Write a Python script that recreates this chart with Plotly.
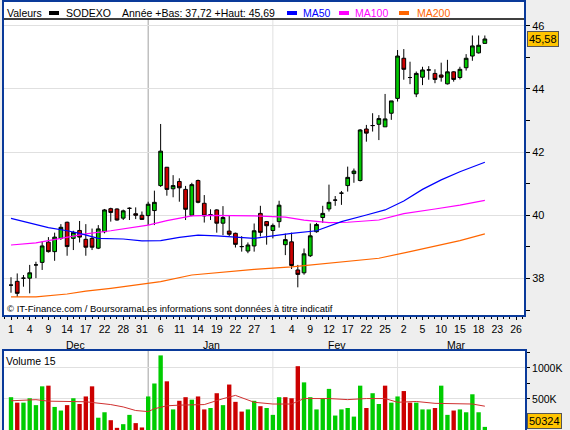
import plotly.graph_objects as go

# --- daily candles, Dec 1 -> Mar 19 (index = trading day) ---
opens = [37.79, 37.91, 38.01, 38.01, 38.43, 38.51, 39.15, 38.85, 39.27, 39.78,
         39.27, 39.52, 39.24, 39.27, 38.96, 39.48, 40.21, 40.20, 39.91, 40.22,
         40.05, 40.00, 39.99, 40.15, 40.94, 41.52, 40.84, 41.07, 40.82, 40.00,
         41.10, 40.38, 40.02, 40.17, 39.75, 39.50, 39.43, 39.01, 38.87, 39.03,
         40.06, 39.80, 39.52, 39.80, 39.07, 39.16, 38.27, 38.18, 38.72, 39.48,
         39.93, 40.20, 40.48, 40.70, 40.94, 41.32, 41.10, 42.73, 42.84, 42.88,
         42.80, 43.23, 43.70, 44.97, 44.36, 43.84, 44.37, 44.60, 44.49, 44.44,
         44.16, 44.54, 44.36, 44.67, 45.04, 45.14, 45.44]
highs = [38.04, 38.16, 38.11, 38.43, 38.53, 39.17, 39.31, 39.45, 39.72, 39.80,
         39.51, 39.82, 39.72, 39.58, 39.69, 40.20, 40.24, 40.22, 40.18, 40.25,
         40.25, 40.12, 40.43, 40.78, 42.89, 41.53, 41.27, 41.17, 40.93, 41.03,
         41.13, 40.64, 40.19, 40.19, 40.29, 40.00, 39.45, 39.34, 39.14, 39.74,
         40.30, 39.82, 39.74, 40.46, 39.42, 39.45, 38.43, 38.95, 39.74, 39.76,
         40.30, 40.97, 40.61, 40.77, 41.54, 41.48, 42.73, 42.86, 43.23, 43.17,
         43.84, 43.62, 45.23, 45.26, 44.86, 44.55, 44.70, 44.72, 44.62, 44.83,
         44.92, 44.56, 44.70, 45.10, 45.69, 45.69, 45.69]
lows = [37.55, 37.42, 37.74, 37.53, 38.01, 38.27, 38.82, 38.56, 39.22, 38.72,
        38.90, 39.14, 38.72, 38.90, 38.93, 39.43, 39.80, 39.83, 39.85, 39.85,
        39.88, 39.85, 39.69, 39.69, 40.90, 40.62, 40.57, 40.43, 39.85, 39.97,
        40.38, 39.77, 39.85, 39.45, 39.37, 39.34, 38.98, 38.85, 38.80, 38.85,
        39.33, 39.07, 39.27, 39.61, 38.74, 38.30, 37.72, 38.12, 38.68, 39.45,
        39.76, 40.12, 40.30, 40.33, 40.75, 41.03, 41.07, 42.33, 42.65, 42.38,
        42.80, 43.02, 43.60, 44.29, 44.15, 43.74, 44.12, 44.29, 44.18, 44.23,
        44.14, 44.23, 44.30, 44.58, 44.89, 45.12, 45.44]
closes = [37.79, 37.53, 38.01, 38.18, 38.43, 39.03, 38.85, 39.31, 39.62, 39.01,
          39.46, 39.31, 38.99, 38.99, 39.57, 40.17, 40.09, 39.85, 40.14, 40.22,
          40.00, 39.87, 40.35, 40.41, 42.03, 40.82, 40.94, 40.87, 40.19, 40.97,
          40.41, 39.98, 40.02, 39.75, 39.93, 39.40, 39.08, 39.01, 39.06, 39.51,
          39.46, 39.67, 39.68, 40.32, 39.23, 38.41, 38.13, 38.78, 39.35, 39.71,
          40.06, 40.41, 40.48, 40.70, 41.20, 41.40, 42.70, 42.60, 42.84, 43.06,
          43.05, 43.62, 45.04, 44.62, 44.36, 44.49, 44.60, 44.60, 44.30, 44.37,
          44.54, 44.30, 44.62, 44.97, 45.36, 45.38, 45.58]

# volume in thousands of shares, colour g = up day, r = down day
volumes_k = [529, 441, 441, 512, 401, 704, 715, 372, 314, 401,
             512, 419, 541, 704, 198, 286, 158, 35, 94, 244,
             111, 41, 541, 750, 1203, 785, 332, 471, 529, 489,
             541, 332, 355, 593, 401, 733, 454, 297, 332, 471,
             384, 355, 244, 529, 529, 512, 1029, 768, 529, 332,
             512, 663, 233, 332, 355, 216, 715, 355, 593, 419,
             715, 441, 541, 628, 441, 441, 332, 332, 355, 715,
             244, 314, 332, 286, 576, 286, 50.324]
vol_dir = ("grggggrggr" "grrrggrrgg" "rrgggrgrrg" "rrgrgrrrgg"
           "rgggrrrggg" "gggggggrgg" "rggrrgggrg" "grggggg")

# moving averages (index, value)
ma50_x = [0, 4, 6, 9, 11, 14, 18, 21, 24, 27, 30, 33, 36, 39, 42, 45, 49, 53, 57, 60, 63, 66, 69, 72, 76]
ma50 = [39.90, 39.72, 39.61, 39.51, 39.43, 39.27, 39.25, 39.19, 39.20, 39.30, 39.37, 39.35,
        39.30, 39.27, 39.35, 39.43, 39.51, 39.80, 40.01, 40.17, 40.45, 40.82, 41.12, 41.38, 41.68]
ma100_x = [0, 4, 8, 12, 16, 19, 22, 25, 29, 32, 36, 39, 44, 47, 51, 54, 59, 63, 68, 72, 76]
ma100 = [39.06, 39.13, 39.27, 39.41, 39.51, 39.60, 39.69, 39.83, 39.98, 40.00, 40.00,
         39.98, 39.94, 39.85, 39.77, 39.78, 39.85, 40.05, 40.20, 40.32, 40.47]
ma200_x = [0, 4, 9, 12, 16, 19, 24, 29, 34, 39, 45, 52, 59, 64, 68, 72, 76]
ma200 = [37.42, 37.42, 37.51, 37.60, 37.69, 37.76, 37.90, 38.11, 38.20, 38.29, 38.37,
         38.51, 38.64, 38.85, 39.03, 39.20, 39.41]
vma_x = [0, 4, 6, 12, 16, 18, 20, 22, 23, 25, 27, 31, 34, 36, 39, 42, 45, 47, 51, 54,
         57, 60, 62, 65, 68, 72, 74, 76]
vma = [471, 489, 465, 455, 410, 372, 314, 297, 343, 390, 401, 410, 505, 558, 447, 419,
       419, 507, 507, 490, 507, 507, 447, 460, 430, 430, 419, 384]

tick_labels = ["1", "4", "9", "14", "17", "22", "28", "31", "6", "11", "14", "19", "22", "27",
               "1", "4", "9", "12", "17", "22", "25", "2", "5", "10", "15", "18", "23", "26"]
months = ["Dec", "Jan", "Fev", "Mar"]
month_label_pos = [10.4, 32.1, 52.3, 71.5]
month_starts = [22, 42, 62]

W, H = 570, 430
FONT = "Liberation Sans"
BLUE_FRAME = "#0A3A9A"


def px(x):
    return x / W


def py(y):
    return 1 - y / H


idx = list(range(len(closes)))
XR = [-1.283, 82.44]
YR = [36.813, 46.212]
VR = [0, 1290]

fig = go.Figure()

fig.add_trace(go.Candlestick(
    x=idx, open=opens, high=highs, low=lows, close=closes,
    increasing=dict(fillcolor="#00C800", line=dict(color="black", width=1)),
    decreasing=dict(fillcolor="#CC0000", line=dict(color="black", width=1)),
    whiskerwidth=0, showlegend=False, xaxis="x", yaxis="y"))

for xs, ys, col in [(ma200_x, ma200, "#FF6600"), (ma100_x, ma100, "#FF00FF"), (ma50_x, ma50, "#0000FF")]:
    fig.add_trace(go.Scatter(x=xs, y=ys, mode="lines", line=dict(color=col, width=1.2),
                             showlegend=False, xaxis="x", yaxis="y"))

fig.add_trace(go.Bar(
    x=idx, y=volumes_k,
    marker=dict(color=["#00CC00" if d == "g" else "#CC0000" for d in vol_dir], line=dict(width=0)),
    showlegend=False, xaxis="x2", yaxis="y2"))
fig.add_trace(go.Scatter(x=vma_x, y=vma, mode="lines", line=dict(color="#D03030", width=1),
                         showlegend=False, xaxis="x2", yaxis="y2"))

shapes = [
    dict(type="rect", xref="paper", yref="paper", x0=px(3), x1=px(525), y0=py(316), y1=py(1),
         fillcolor="white", line=dict(width=0), layer="below"),
    dict(type="rect", xref="paper", yref="paper", x0=px(3), x1=px(526), y0=py(432), y1=py(350),
         fillcolor="white", line=dict(width=0), layer="below"),
]
for k, m in enumerate(month_starts):
    col = "#A0A0A0" if k == 0 else "#E0E0E0"
    shapes.append(dict(type="line", xref="x", yref="y", x0=m, x1=m, y0=YR[0], y1=YR[1],
                       line=dict(color=col, width=1), layer="below"))
    shapes.append(dict(type="line", xref="x2", yref="y2", x0=m, x1=m, y0=VR[0], y1=VR[1],
                       line=dict(color=col, width=1), layer="below"))
shapes += [
    dict(type="line", xref="paper", yref="paper", x0=px(3), x1=px(525), y0=py(19), y1=py(19),
         line=dict(color="black", width=1.5)),
    dict(type="rect", xref="paper", yref="paper", x0=px(3), x1=px(525), y0=py(316), y1=py(1),
         line=dict(color=BLUE_FRAME, width=2)),
    dict(type="rect", xref="paper", yref="paper", x0=px(3), x1=px(526), y0=py(434), y1=py(350),
         line=dict(color=BLUE_FRAME, width=2)),
]
# legend swatches in the header
for x0, col in [(49, "black"), (287, "#0000FF"), (339, "#FF00FF"), (399, "#FF6600")]:
    shapes.append(dict(type="rect", xref="paper", yref="paper", x0=px(x0), x1=px(x0 + 10),
                       y0=py(15), y1=py(11), fillcolor=col, line=dict(width=0)))

ann = []
for x0, txt, col in [(5, "Valeurs", "black"), (64, "SODEXO", "black"),
                     (120, "Année +Bas: 37,72 +Haut: 45,69", "black"),
                     (301, "MA50", "#0000FF"), (353, "MA100", "#FF00FF"), (415, "MA200", "#FF6600")]:
    ann.append(dict(xref="paper", yref="paper", x=px(x0), y=py(13), text=txt, showarrow=False,
                    xanchor="left", yanchor="middle", font=dict(size=10.5, color=col)))
ann.append(dict(xref="paper", yref="paper", x=px(5), y=py(308), xanchor="left", yanchor="middle",
                text="© IT-Finance.com / BoursoramaLes informations sont données à titre indicatif",
                showarrow=False, font=dict(size=9.5, color="black")))
ann.append(dict(xref="paper", yref="paper", x=px(4), y=py(361), xanchor="left", yanchor="middle",
                text="Volume 15", showarrow=False, font=dict(size=10.5, color="black")))
for m, pos in zip(months, month_label_pos):
    ann.append(dict(xref="x", yref="paper", x=pos, y=py(345), text=m, showarrow=False,
                    yanchor="middle", font=dict(size=10.5, color="black")))
ann.append(dict(xref="paper", yref="y", x=px(527), y=closes[-1], xanchor="left", yanchor="middle",
                text=f"{closes[-1]:.2f}".replace(".", ","), showarrow=False,
                bgcolor="#FFC400", bordercolor="#555555", borderwidth=1, borderpad=1,
                font=dict(size=11, color="black")))
ann.append(dict(xref="paper", yref="paper", x=px(527), y=py(421), xanchor="left", yanchor="middle",
                text=f"{volumes_k[-1] * 1000:.0f}", showarrow=False,
                bgcolor="#FFC400", bordercolor="#555555", borderwidth=1, borderpad=1,
                font=dict(size=11, color="black")))

fig.update_layout(
    width=W, height=H,
    margin=dict(l=0, r=0, t=0, b=0),
    paper_bgcolor="#EEEEEE",
    plot_bgcolor="white",
    font=dict(family=FONT, size=10.5, color="black"),
    boxgap=0.15, bargap=0.3,
    showlegend=False,
    shapes=shapes, annotations=ann,
    xaxis=dict(domain=[px(3), px(525)], range=XR, rangeslider=dict(visible=False),
               tickmode="array", tickvals=idx[::3] + [78, 81], ticktext=tick_labels,
               ticks="outside", ticklen=3, tickcolor="black", showgrid=False, zeroline=False,
               minor=dict(ticks="outside", ticklen=2, dtick=1, tick0=0, tickcolor="black"),
               tickfont=dict(size=10.5), anchor="y", fixedrange=True),
    yaxis=dict(domain=[py(316), py(19)], range=YR, side="right", anchor="x",
               tickmode="linear", tick0=38, dtick=2, ticks="outside", ticklen=4, tickcolor="black",
               minor=dict(ticks="outside", ticklen=4, dtick=1, tick0=37, tickcolor="black"),
               showgrid=True, gridcolor="#E0E0E0", zeroline=False, tickfont=dict(size=11)),
    xaxis2=dict(domain=[px(3), px(525)], range=XR, showticklabels=False, showgrid=False,
                zeroline=False, anchor="y2"),
    yaxis2=dict(domain=[0, py(350)], range=VR, side="right", anchor="x2",
                tickmode="array", tickvals=[500, 1000], ticktext=["500K", "1000K"],
                ticks="outside", ticklen=4, tickcolor="black",
                minor=dict(ticks="outside", ticklen=4, tickmode="array", tickvals=[250, 750, 1250],
                           tickcolor="black"),
                showgrid=True, gridcolor="#E0E0E0", zeroline=False, tickfont=dict(size=10.5)),
)

# page body margin would otherwise offset the whole figure by 8px
fig.write_html("out.html", config={"displayModeBar": False},
               post_script="document.body.style.margin='0';")
